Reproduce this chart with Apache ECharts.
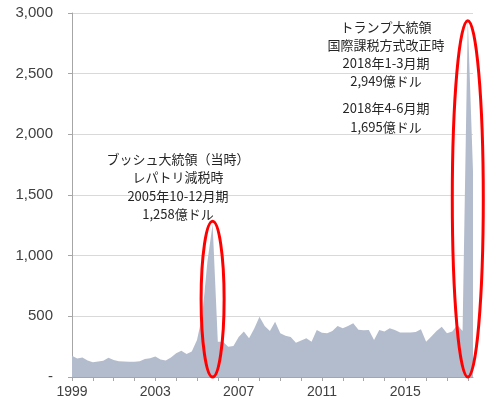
<!DOCTYPE html>
<html>
<head>
<meta charset="utf-8">
<script src="https://cdn.jsdelivr.net/npm/echarts@6/dist/echarts.min.js"></script>
<style>
  html, body { margin: 0; padding: 0; background: #fff; }
  #chart { width: 500px; height: 407px; }
</style>
</head>
<body>
<div id="chart"></div>
<script>
// 四半期 1999年1-3月期 〜 2018年4-6月期
const quarters = []
for (let y = 1999; y <= 2018; y++) {
  for (let q = 1; q <= 4; q++) {
    if (y === 2018 && q > 2) break
    quarters.push(y + 'Q' + q)
  }
}

// 億ドル
const amounts = [
  175, 152, 160, 135,   // 1999
  122, 128, 133, 158,   // 2000
  140, 130, 128, 125,   // 2001
  126, 130, 148, 155,   // 2002
  168, 145, 135, 160,   // 2003
  195, 217, 190, 210,   // 2004
  305, 500, 950, 1258,  // 2005
  290, 291, 250, 255,   // 2006
  330, 374, 320, 400,   // 2007
  497, 420, 380, 456,   // 2008
  360, 340, 330, 283,   // 2009
  300, 319, 291, 387,   // 2010
  365, 360, 380, 420,   // 2011
  402, 420, 442, 390,   // 2012
  385, 387, 305, 387,   // 2013
  374, 401, 387, 366,   // 2014
  366, 366, 370, 393,   // 2015
  291, 333, 380, 415,   // 2016
  360, 374, 429, 380,   // 2017
  2949, 1695            // 2018
]

const xTickYears = ['1999', '2003', '2007', '2011', '2015']
const yMax = 3000
const yStep = 500

// 注記
const noteBush = ['ブッシュ大統領（当時）', 'レパトリ減税時', '2005年10-12月期', '1,258億ドル']
const noteTrump = ['トランプ大統領', '国際課税方式改正時', '2018年1-3月期', '2,949億ドル']
const noteTrump2 = ['2018年4-6月期', '1,695億ドル']

const myChart = echarts.init(document.getElementById('chart'))

const labelFont = {
  color: '#404040',
  fontSize: 14,
  fontFamily: 'Liberation Sans'
}

myChart.setOption({
  animation: false,
  grid: {
    left: 72,
    right: 27,
    top: 13,
    bottom: 30
  },
  xAxis: {
    type: 'category',
    data: quarters,
    boundaryGap: false,
    axisLine: {
      lineStyle: { color: '#a6a6a6', width: 1 }
    },
    axisTick: {
      show: true,
      length: 4,
      lineStyle: { color: '#a6a6a6' },
      interval: (index) => index % 4 === 0
    },
    axisLabel: {
      ...labelFont,
      margin: 8,
      interval: (index, value) => value.endsWith('Q1') && xTickYears.includes(value.slice(0, 4)),
      formatter: (value) => value.slice(0, 4)
    },
    splitLine: { show: false }
  },
  yAxis: {
    type: 'value',
    min: 0,
    max: yMax,
    interval: yStep,
    axisLine: {
      show: true,
      lineStyle: { color: '#a6a6a6', width: 1 }
    },
    axisTick: {
      show: true,
      length: 4,
      lineStyle: { color: '#a6a6a6' }
    },
    axisLabel: {
      ...labelFont,
      fontSize: 15,
      margin: 19,
      formatter: (v) => (v === 0 ? '-' : v.toLocaleString('en-US'))
    },
    splitLine: {
      lineStyle: { color: '#d9d9d9' }
    }
  },
  series: [
    {
      type: 'line',
      data: amounts,
      symbol: 'none',
      lineStyle: { width: 0 },
      areaStyle: { color: '#b3bccd', opacity: 1 }
    }
  ]
})

// 赤い楕円：データ点の位置から計算
const circles = [
  { index: 27, rx: 11.5, pad: 3 },
  { index: 76, rx: 15.5, pad: -1.5 }
]
const graphics = circles.map((c) => {
  const top = myChart.convertToPixel({ gridIndex: 0 }, [c.index, amounts[c.index]])
  const base = myChart.convertToPixel({ gridIndex: 0 }, [c.index, 0])
  const y1 = top[1] - c.pad
  return {
    type: 'ellipse',
    shape: { cx: top[0], cy: (y1 + base[1]) / 2, rx: c.rx, ry: (base[1] - y1) / 2 },
    style: { fill: 'none', stroke: '#ff0000', lineWidth: 3 },
    z: 100
  }
})

const textStyle = (lines, x, y, lh) => ({
  type: 'text',
  x: x,
  y: y,
  style: {
    text: lines.join('\n'),
    fill: '#262626',
    font: '13px "Noto Sans CJK JP"',
    align: 'center',
    verticalAlign: 'top',
    lineHeight: lh
  },
  z: 100
})

graphics.push(textStyle(noteBush, 178, 150, 18.3))
graphics.push(textStyle(noteTrump, 386, 18, 18))
graphics.push(textStyle(noteTrump2, 386, 98.5, 19))

myChart.setOption({ graphic: graphics })
</script>
</body>
</html>
